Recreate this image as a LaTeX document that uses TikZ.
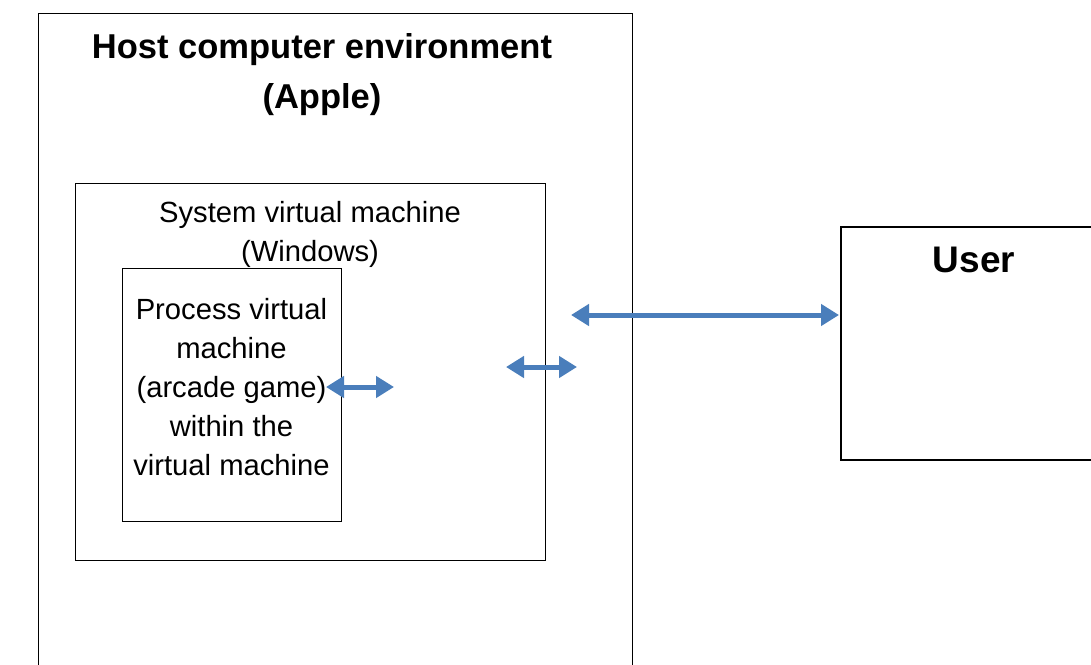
\documentclass[tikz,border=0pt]{standalone}
\usepackage{fontspec}
\setmainfont{Liberation Sans}
\usetikzlibrary{
    arrows.meta,
    positioning
}
\tikzset{
    % Colors
    link color/.style={color={rgb,255:red,74;green,126;blue,187}},
    %
    % Boxes and texts
    box/.style={draw=black,line width=1.3pt,inner sep=0pt,anchor=north west},
    title text/.style={inner sep=0pt,anchor=north,align=center,font=\fontsize{34.5}{50}\selectfont\bfseries},
    plain text/.style={inner sep=0pt,anchor=north,align=center,font=\fontsize{29.2}{39}\selectfont},
    %
    % Arrows
    arrow tip/.tip={Triangle[width=21pt,length=18pt]},
    darr/.style={link color,line width=5pt,{arrow tip}-{arrow tip},shorten <=1pt,shorten >=1pt}
}

\begin{document}
\begin{tikzpicture}[x=1pt,y=-1pt]
    \useasboundingbox (0,0) rectangle (1091,664);
    \clip (0,0) rectangle (1091,664);
    %
    % Boxes
    \node[box,minimum width=594pt,minimum height=700pt] (host) at (38,13) {};
    \node[box,minimum width=470pt,minimum height=377pt] (system) at (75,183) {};
    \node[box,minimum width=219pt,minimum height=253pt] (process) at (122,268) {};
    \node[box,line width=1.8pt,minimum width=300pt,minimum height=233pt] (user) at (840,226) {};
    %
    % Texts
    \node[title text] (host title) at (322,33) {Host computer environment\\(Apple)};
    \node[plain text] (system title) at (310,201.5) {System virtual machine\\(Windows)};
    \node[plain text] (process title) at (231.5,298.5) {Process virtual\\machine\\(arcade game)\\within the\\virtual machine};
    \node[title text,font=\fontsize{37}{50}\selectfont\bfseries] (user title) at (974,247) {User};
    %
    % Arrows
    \coordinate (a1) at (325,387);
    \coordinate (b1) at (395,387);
    \coordinate (a2) at (505,367);
    \coordinate (b2) at (578,367);
    \coordinate (a3) at (570,315);
    \draw[darr] (a1) -- (b1);
    \draw[darr] (a2) -- (b2);
    \draw[darr] (a3) -- (a3 -| user.west);
\end{tikzpicture}
\end{document}
